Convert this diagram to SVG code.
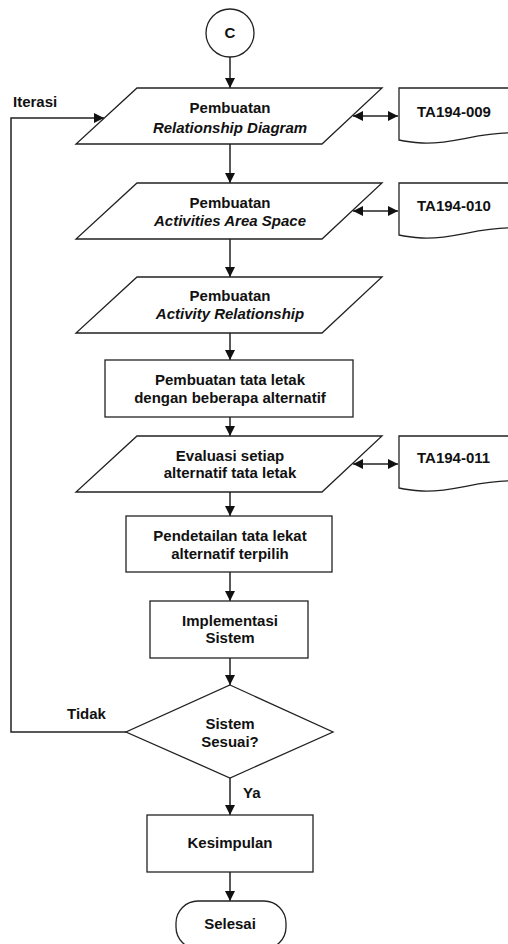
<svg xmlns="http://www.w3.org/2000/svg" width="508" height="944" viewBox="0 0 508 944">
<style>
.s{fill:#fff;stroke:#222;stroke-width:1.3}
.t{font-family:"Liberation Sans",Arial,sans-serif;font-size:15px;font-weight:bold;fill:#111;text-anchor:middle}
.i{font-style:italic}
.l{text-anchor:start}
.c{fill:none;stroke:#222;stroke-width:1.5}
</style>
<defs>
<marker id="ah" markerUnits="userSpaceOnUse" markerWidth="12" markerHeight="10" refX="10" refY="5" orient="auto-start-reverse">
<path d="M0,0 L10,5 L0,10 Z" fill="#111"/>
</marker>
</defs>
<rect width="508" height="944" fill="#fff"/>
<g id="connectors">
<line class="c" x1="230" y1="57" x2="230" y2="88" marker-end="url(#ah)"/>
<line class="c" x1="230" y1="144" x2="230" y2="183" marker-end="url(#ah)"/>
<line class="c" x1="230" y1="239" x2="230" y2="277" marker-end="url(#ah)"/>
<line class="c" x1="230" y1="333" x2="230" y2="360" marker-end="url(#ah)"/>
<line class="c" x1="230" y1="417" x2="230" y2="436" marker-end="url(#ah)"/>
<line class="c" x1="230" y1="492" x2="230" y2="516" marker-end="url(#ah)"/>
<line class="c" x1="230" y1="572" x2="230" y2="601" marker-end="url(#ah)"/>
<line class="c" x1="230" y1="658" x2="230" y2="685" marker-end="url(#ah)"/>
<line class="c" x1="230" y1="778" x2="230" y2="815" marker-end="url(#ah)"/>
<line class="c" x1="230" y1="872" x2="230" y2="901" marker-end="url(#ah)"/>
<line class="c" x1="353" y1="116" x2="398" y2="116" marker-start="url(#ah)" marker-end="url(#ah)"/>
<line class="c" x1="353" y1="211" x2="398" y2="211" marker-start="url(#ah)" marker-end="url(#ah)"/>
<line class="c" x1="353" y1="464" x2="398" y2="464" marker-start="url(#ah)" marker-end="url(#ah)"/>
<polyline class="c" points="126,732 11,732 11,118 104,118" marker-end="url(#ah)"/>
<text class="t l" x="13" y="107">Iterasi</text>
<text class="t l" x="67" y="719">Tidak</text>
<text class="t l" x="243" y="798">Ya</text>
</g>
<g id="start">
<circle class="s" cx="230" cy="33" r="24"/>
<text class="t" x="230" y="38">C</text>
</g>
<g id="p1">
<polygon class="s" points="137,88 382,88 322,144 76,144"/>
<text class="t" x="230" y="113">Pembuatan</text>
<text class="t i" x="230" y="133">Relationship Diagram</text>
</g>
<g id="doc1">
<path class="s" d="M399,88 L512,88 L512,133 C480,132 450,145 422,143 C410,142 404,141 399,140 Z"/>
<text class="t l" x="417" y="117">TA194-009</text>
</g>
<g id="p2">
<polygon class="s" points="137,183 382,183 322,239 76,239"/>
<text class="t" x="230" y="208">Pembuatan</text>
<text class="t i" x="230" y="226">Activities Area Space</text>
</g>
<g id="doc2">
<path class="s" d="M399,183 L512,183 L512,228 C480,227 450,240 422,238 C410,237 404,236 399,235 Z"/>
<text class="t l" x="417" y="211">TA194-010</text>
</g>
<g id="p3">
<polygon class="s" points="137,277 382,277 322,333 76,333"/>
<text class="t" x="230" y="301">Pembuatan</text>
<text class="t i" x="230" y="319">Activity Relationship</text>
</g>
<g id="r1">
<rect class="s" x="105" y="360" width="248" height="57"/>
<text class="t" x="230" y="385">Pembuatan tata letak</text>
<text class="t" x="230" y="403">dengan beberapa alternatif</text>
</g>
<g id="p4">
<polygon class="s" points="137,436 382,436 322,492 76,492"/>
<text class="t" x="230" y="461">Evaluasi setiap</text>
<text class="t" x="230" y="478">alternatif tata letak</text>
</g>
<g id="doc3">
<path class="s" d="M399,436 L512,436 L512,481 C480,480 450,493 422,491 C410,490 404,489 399,488 Z"/>
<text class="t l" x="417" y="463">TA194-011</text>
</g>
<g id="r2">
<rect class="s" x="126" y="516" width="206" height="56"/>
<text class="t" x="230" y="541">Pendetailan tata lekat</text>
<text class="t" x="230" y="559">alternatif terpilih</text>
</g>
<g id="r3">
<rect class="s" x="150" y="601" width="158" height="57"/>
<text class="t" x="230" y="626">Implementasi</text>
<text class="t" x="230" y="643">Sistem</text>
</g>
<g id="decision">
<polygon class="s" points="230,685 333,732 230,778 126,732"/>
<text class="t" x="230" y="729">Sistem</text>
<text class="t" x="230" y="747">Sesuai?</text>
</g>
<g id="r4">
<rect class="s" x="147" y="815" width="166" height="57"/>
<text class="t" x="230" y="848">Kesimpulan</text>
</g>
<g id="end">
<rect class="s" x="176" y="901" width="110" height="48" rx="22" ry="22"/>
<text class="t" x="230" y="929">Selesai</text>
</g>
</svg>
